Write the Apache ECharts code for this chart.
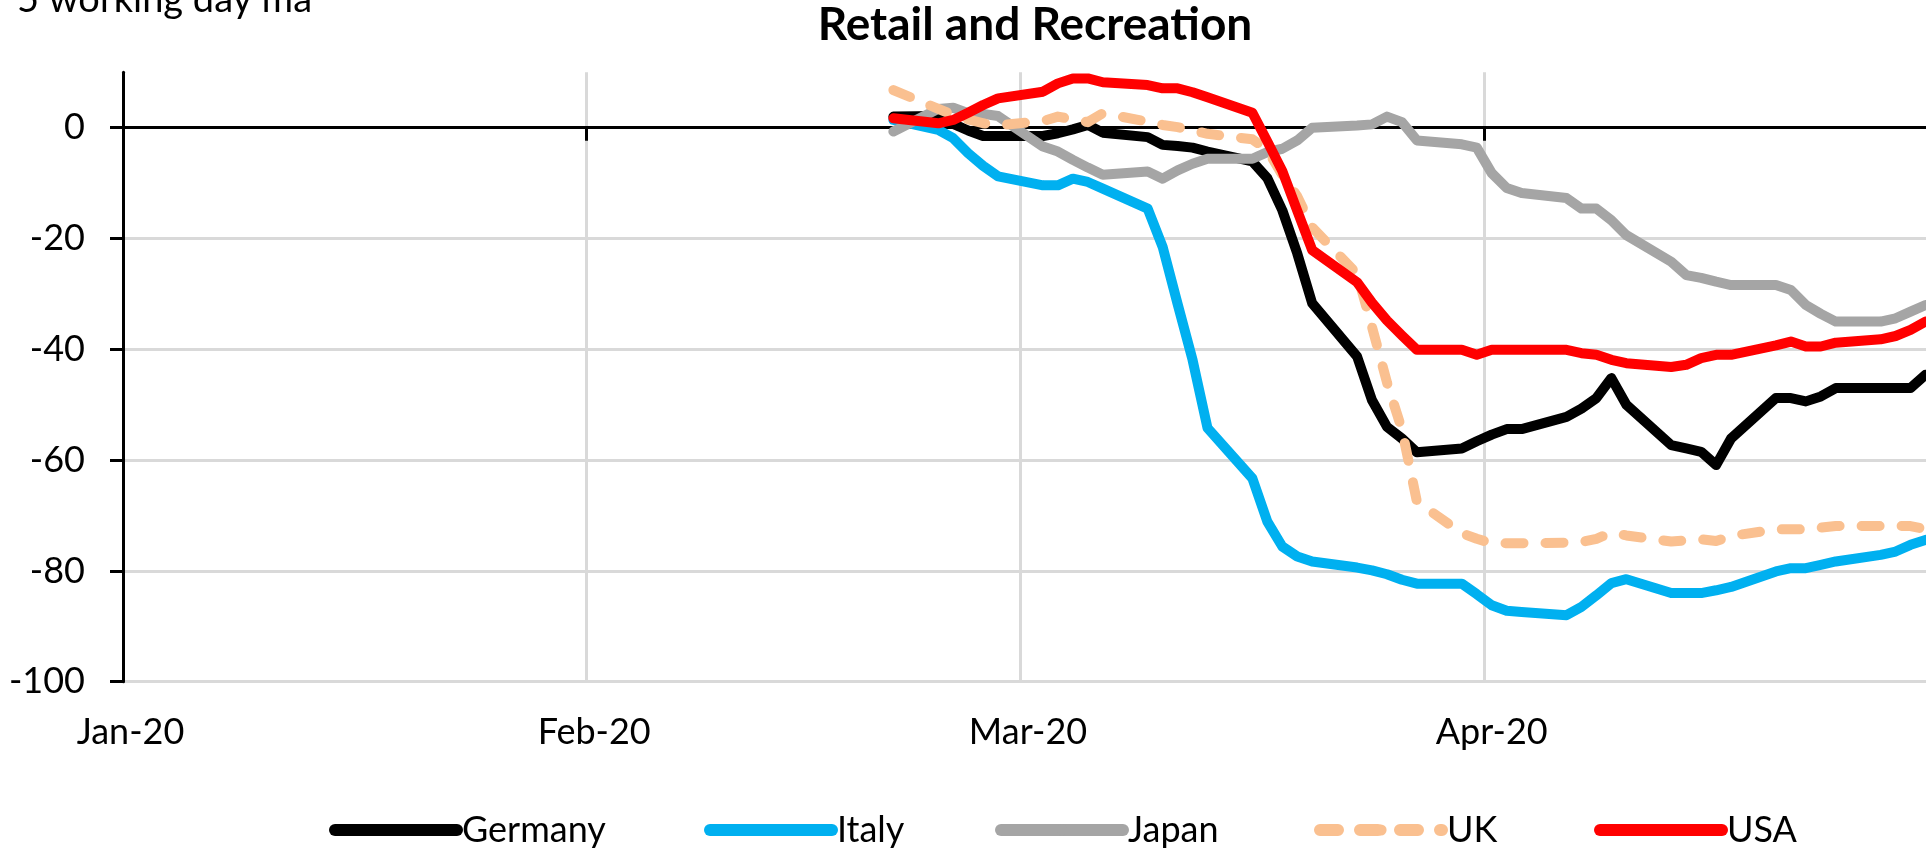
<!DOCTYPE html>
<html>
<head>
<meta charset="utf-8">
<script src="https://cdn.jsdelivr.net/npm/echarts@6/dist/echarts.min.js"></script>
<style>
html,body{margin:0;padding:0;background:#ffffff;}
#chart{width:1926px;height:849px;}
</style>
</head>
<body>
<div id="chart"></div>
<script>
// ---- data (5 working day moving average, % change from baseline) ----
const dates = ['2020-02-21','2020-02-24','2020-02-25','2020-02-26','2020-02-27','2020-02-28',
  '2020-03-02','2020-03-03','2020-03-04','2020-03-05','2020-03-06',
  '2020-03-09','2020-03-10','2020-03-11','2020-03-12','2020-03-13',
  '2020-03-16','2020-03-17','2020-03-18','2020-03-19','2020-03-20',
  '2020-03-23','2020-03-24','2020-03-25','2020-03-26','2020-03-27',
  '2020-03-30','2020-03-31','2020-04-01','2020-04-02','2020-04-03',
  '2020-04-06','2020-04-07','2020-04-08','2020-04-09','2020-04-10',
  '2020-04-13','2020-04-14','2020-04-15','2020-04-16','2020-04-17',
  '2020-04-20','2020-04-21','2020-04-22','2020-04-23','2020-04-24',
  '2020-04-27','2020-04-28','2020-04-29','2020-04-30'];

const germany = [2.0, 2.1, 0.7, -0.5, -1.5, -1.5,
  -1.5, -1.0, -0.3, 0.5, -0.9,
  -1.7, -3.1, -3.3, -3.6, -4.3,
  -6.1, -9.1, -14.9, -22.7, -31.7,
  -41.3, -49.2, -54.0, -56.1, -58.6,
  -57.9, -56.6, -55.4, -54.4, -54.4,
  -52.2, -50.7, -48.8, -45.2, -50.0,
  -57.3, -57.9, -58.5, -60.9, -56.1,
  -48.8, -48.8, -49.4, -48.5, -47.0,
  -47.0, -47.0, -47.0, -44.6];

const italy = [1.4, -0.4, -1.9, -4.6, -6.9, -8.8,
  -10.4, -10.4, -9.2, -9.8, -11.0,
  -14.6, -21.5, -31.8, -41.9, -54.2,
  -63.3, -71.1, -75.6, -77.4, -78.3,
  -79.4, -79.9, -80.6, -81.6, -82.3,
  -82.3, -84.2, -86.2, -87.2, -87.4,
  -88.0, -86.5, -84.4, -82.2, -81.5,
  -84.0, -84.0, -84.0, -83.5, -82.9,
  -80.1, -79.5, -79.5, -78.9, -78.3,
  -77.1, -76.5, -75.3, -74.4];

const japan = [-0.7, 3.4, 3.6, 2.6, 2.5, 2.1,
  -3.4, -4.3, -5.8, -7.2, -8.5,
  -7.9, -9.2, -7.7, -6.5, -5.6,
  -5.6, -4.4, -3.8, -2.3, 0.0,
  0.4, 0.6, 2.0, 1.0, -2.3,
  -3.0, -3.6, -8.2, -10.9, -11.8,
  -12.7, -14.6, -14.6, -16.7, -19.4,
  -24.2, -26.6, -27.1, -27.8, -28.4,
  -28.4, -29.3, -32.0, -33.6, -35.0,
  -35.0, -34.4, -33.2, -32.0];

const uk = [6.8, 3.4, 2.3, 1.5, 0.8, 0.4,
  1.2, 2.0, 1.5, 1.0, 2.6,
  1.1, 0.5, 0.1, -0.5, -1.1,
  -2.1, -4.0, -8.5, -12.4, -18.0,
  -26.4, -36.0, -46.0, -54.5, -67.5,
  -73.2, -74.2, -75.0, -75.0, -75.0,
  -74.9, -74.8, -74.2, -73.1, -73.6,
  -74.7, -74.5, -74.3, -74.6, -73.7,
  -72.5, -72.5, -72.5, -72.2, -71.9,
  -71.9, -71.9, -71.9, -72.5];

const usa = [1.7, 0.8, 1.4, 2.7, 4.1, 5.3,
  6.5, 8.0, 8.9, 8.9, 8.2,
  7.7, 7.1, 7.1, 6.4, 5.5,
  2.7, -2.5, -7.8, -15.0, -22.1,
  -27.9, -31.6, -34.8, -37.5, -40.1,
  -40.1, -41.0, -40.1, -40.1, -40.1,
  -40.1, -40.7, -41.0, -41.9, -42.5,
  -43.2, -42.8, -41.6, -41.0, -41.0,
  -39.3, -38.6, -39.5, -39.5, -38.8,
  -38.2, -37.6, -36.5, -35.0];

const seriesNames = ['Germany', 'Italy', 'Japan', 'UK', 'USA'];
const seriesValues = [germany, italy, japan, uk, usa];
const yTickValues = [-100, -80, -60, -40, -20, 0];
const monthNames = ['Jan', 'Feb', 'Mar', 'Apr', 'May', 'Jun', 'Jul', 'Aug', 'Sep', 'Oct', 'Nov', 'Dec'];
const titleText = 'Retail and Recreation';
const unitText = '5 working day ma';

// ---- styles / layout ----
const colors = ['#000000', '#00B0F0', '#A5A5A5', '#FAC090', '#FF0000'];
const dashes = ['solid', 'solid', 'solid', [18, 22], 'solid'];
const legendLefts = [329, 704, 995, 1314, 1594];
const FONT = 'Lato, "Open Sans", sans-serif';

// daily categories Jan 1 .. Apr 30 2020 (Excel date axis, points between tick marks)
const categories = [];
for (let d = new Date(Date.UTC(2020, 0, 1)); d <= new Date(Date.UTC(2020, 3, 30)); d.setUTCDate(d.getUTCDate() + 1)) {
  categories.push(d.toISOString().slice(0, 10));
}
function align(values) {
  const m = {};
  dates.forEach((d, i) => { m[d] = values[i]; });
  return categories.map(c => (c in m ? m[c] : null));
}
const isMonthStart = (idx, val) => String(val).slice(8, 10) === '01';
const monthLabel = v => monthNames[parseInt(String(v).slice(5, 7), 10) - 1] + '-' + String(v).slice(2, 4);

const chart = echarts.init(document.getElementById('chart'), null, { renderer: 'canvas' });

const option = {
  animation: false,
  backgroundColor: '#ffffff',
  grid: { left: 123, right: -7, top: 72.3, bottom: 167.3, containLabel: false, outerBoundsMode: 'none' },
  xAxis: [
    {
      type: 'category', data: categories, boundaryGap: true, position: 'bottom',
      axisLine: { show: false, onZero: false },
      axisTick: { show: false },
      axisLabel: { interval: isMonthStart, formatter: monthLabel, margin: 33, fontSize: 36, fontFamily: FONT, color: '#000000' },
      splitLine: { show: true, interval: isMonthStart, lineStyle: { color: '#D9D9D9', width: 3 } }
    },
    {
      type: 'category', data: categories, boundaryGap: true, position: 'top',
      axisLine: { show: true, onZero: true, lineStyle: { color: '#000000', width: 3 } },
      axisTick: { show: true, inside: true, length: 13, interval: isMonthStart, lineStyle: { color: '#000000', width: 3 } },
      axisLabel: { show: false },
      splitLine: { show: false }
    }
  ],
  yAxis: {
    type: 'value', min: -100, max: 10, interval: 20,
    axisLine: { show: true, lineStyle: { color: '#000000', width: 3 } },
    axisTick: { show: true, length: 13, customValues: yTickValues, lineStyle: { color: '#000000', width: 3 } },
    axisLabel: { customValues: yTickValues, margin: 38, fontSize: 36, fontFamily: FONT, color: '#000000' },
    splitLine: { show: true, showMaxLine: false, lineStyle: { color: '#D9D9D9', width: 3 } }
  },
  legend: seriesNames.map((name, i) => ({
    data: [name], left: legendLefts[i], top: 812, orient: 'horizontal',
    itemWidth: 122, itemHeight: 14, itemGap: 0, padding: 0,
    lineStyle: { width: 12 },
    textStyle: { fontSize: 36, fontFamily: FONT, color: '#000000' },
    selectedMode: false
  })),
  graphic: [
    { type: 'text', x: 1035, y: 25, silent: true,
      style: { text: titleText, align: 'center', verticalAlign: 'middle', font: 'bold 46px ' + FONT, fill: '#000000' } },
    { type: 'text', x: 17, y: 0, silent: true,
      style: { text: unitText, align: 'left', verticalAlign: 'middle', font: '38px ' + FONT, fill: '#000000' } }
  ],
  series: seriesNames.map((name, i) => ({
    name: name, type: 'line', xAxisIndex: 0, yAxisIndex: 0,
    data: align(seriesValues[i]),
    connectNulls: true, symbol: 'none', showSymbol: false, smooth: false,
    lineStyle: { color: colors[i], width: 10, type: dashes[i], cap: 'round', join: 'round' },
    itemStyle: { color: colors[i] },
    emphasis: { disabled: true }
  }))
};
chart.setOption(option);
</script>
</body>
</html>
